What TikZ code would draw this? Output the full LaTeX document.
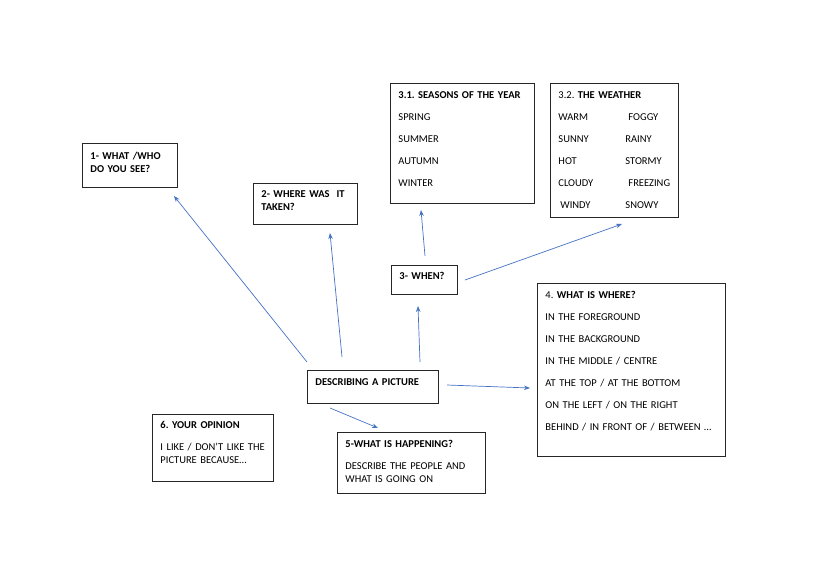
\documentclass[tikz,border=0pt]{standalone}
\usepackage{fontspec}
\setmainfont{Carlito}
\usepackage{xcolor}
\usetikzlibrary{arrows.meta,positioning}
\definecolor{linkblue}{RGB}{68,114,196}
\tikzset{
  box/.style={draw=black!85, line width=0.9pt, anchor=north west,
    inner xsep=8pt, inner ysep=0pt, align=left,
    font=\fontsize{10.5}{13.5}\selectfont},
  link/.style={draw=linkblue, line width=0.7pt,
    -{Stealth[length=6pt,width=4.5pt]}}
}
\newcommand{\wx}[3]{\makebox[#1][l]{#2}#3}
\frenchspacing

\begin{document}
\begin{tikzpicture}[x=1pt,y=-1pt]
    \useasboundingbox (0,0) rectangle (821,581);
    % boxes
    \node[box, text width=79pt, text height=16pt, text depth=28pt] (who) at (82,143)
        {\textbf{1- WHAT /WHO}\\\textbf{DO YOU SEE?}};
    \node[box, text width=88pt, text height=14pt, text depth=27pt] (where) at (253,183)
        {\textbf{2- WHERE WAS\ \ IT}\\\textbf{TAKEN?}};
    \node[box, text width=128pt, text height=15pt, text depth=105pt] (seasons) at (390,83)
        {\textbf{3.1. SEASONS OF THE YEAR}\\[8.5pt] SPRING\\[8.5pt] SUMMER\\[8.5pt] AUTUMN\\[8.5pt] WINTER};
    \node[box, text width=112pt, text height=15pt, text depth=119pt] (weather) at (550,83)
        {3.2. \textbf{THE WEATHER}\\[8.5pt]
         \wx{70pt}{WARM}{FOGGY}\\[8.5pt]
         \wx{67pt}{SUNNY}{RAINY}\\[8.5pt]
         \wx{67pt}{HOT}{STORMY}\\[8.5pt]
         \wx{70pt}{CLOUDY}{FREEZING}\\[8.5pt]
         \hspace{2pt}\wx{65pt}{WINDY}{SNOWY}};
    \node[box, text width=50pt, text height=14pt, text depth=15pt] (when) at (391,265)
        {\textbf{3- WHEN?}};
    \node[box, text width=172pt, text height=15pt, text depth=158pt] (whatwhere) at (537,283)
        {4. \textbf{WHAT IS WHERE?}\\[8.5pt] IN THE FOREGROUND\\[8.5pt] IN THE BACKGROUND\\[8.5pt]
         IN THE MIDDLE / CENTRE\\[8.5pt] AT THE TOP / AT THE BOTTOM\\[8.5pt]
         ON THE LEFT / ON THE RIGHT\\[8.5pt] BEHIND / IN FRONT OF / BETWEEN …};
    \node[box, text width=115pt, text height=15pt, text depth=18pt] (centre) at (307,370)
        {\textbf{DESCRIBING A PICTURE}};
    \node[box, text width=105pt, text height=14pt, text depth=53pt] (opinion) at (152,414)
        {\textbf{6. YOUR OPINION}\\[8.5pt] I LIKE / DON’T LIKE THE\\ PICTURE BECAUSE…};
    \node[box, text width=132pt, text height=15pt, text depth=46pt] (happening) at (337,432)
        {\textbf{5-WHAT IS HAPPENING?}\\[8.5pt] DESCRIBE THE PEOPLE AND\\ WHAT IS GOING ON};
    % arrow ends
    \coordinate (s1) at (307,362);
    \coordinate (e1) at (174,196);
    \coordinate (s2) at (342,357);
    \coordinate (e2) at (330,233);
    \coordinate (s3) at (420,362);
    \coordinate (e3) at (418,306);
    \coordinate (s4) at (425,256);
    \coordinate (e4) at (421,210);
    \coordinate (s5) at (465,280);
    \coordinate (e5) at (622,224);
    \coordinate (s6) at (447,385);
    \coordinate (e6) at (530,388);
    \coordinate (s7) at (330,408);
    \coordinate (e7) at (378,428);
    % arrows
    \draw[link] (s1) -- (e1);
    \draw[link] (s2) -- (e2);
    \draw[link] (s3) -- (e3);
    \draw[link] (s4) -- (e4);
    \draw[link] (s5) -- (e5);
    \draw[link] (s6) -- (e6);
    \draw[link] (s7) -- (e7);
\end{tikzpicture}
\end{document}
